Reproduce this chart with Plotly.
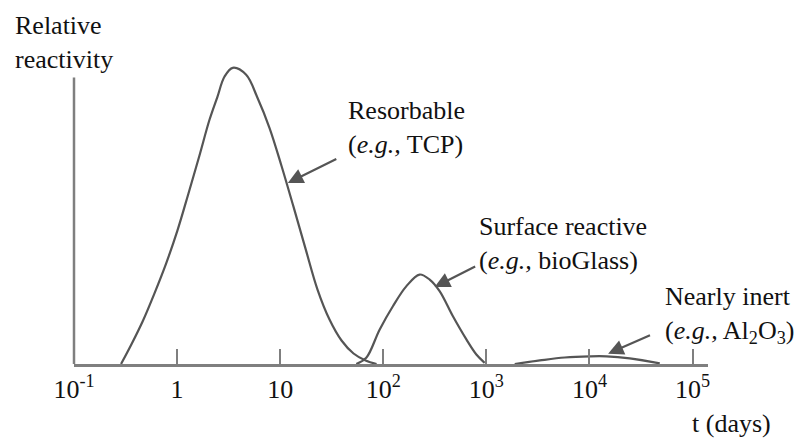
import plotly.graph_objects as go

# ---- data ----
resorb_t = [0.286, 0.360, 0.464, 0.602, 0.782, 1.007, 1.287, 1.646, 2.059, 2.462, 2.879, 3.466,
            4.677, 6.020, 7.871, 10.29, 13.46, 17.61, 23.02, 30.10, 39.37, 51.48, 67.33, 86.10]
resorb_y = [0, 0.0658, 0.1444, 0.2378, 0.3390, 0.4503, 0.5750, 0.7032, 0.8238, 0.9022, 0.9697, 1.0,
            0.9764, 0.8988, 0.7976, 0.6695, 0.5312, 0.3895, 0.2513, 0.1501, 0.0793, 0.0354, 0.0118, 0]

surface_t = [54.7, 68.4, 92.1, 124, 167, 225, 282, 352, 474, 640, 800, 962]
surface_y = [0, 0.021, 0.116, 0.195, 0.262, 0.302, 0.285, 0.246, 0.161, 0.083, 0.032, 0.004]

inert_t = [1884, 3297, 5760, 10070, 14620, 24600, 48100]
inert_y = [0, 0.012, 0.022, 0.026, 0.026, 0.019, 0.002]

tick_vals = [0.1, 1, 10, 100, 1000, 10000, 100000]
tick_text = ["10<sup>-1</sup>", "1", "10", "10<sup>2</sup>", "10<sup>3</sup>", "10<sup>4</sup>", "10<sup>5</sup>"]

CURVE = "#555555"
AXIS = "#7f7f7f"
FONT = dict(family="Liberation Serif, Times New Roman, serif", size=26, color="#111111")

fig = go.Figure()
for t, y in [(resorb_t, resorb_y), (surface_t, surface_y), (inert_t, inert_y)]:
    fig.add_trace(go.Scatter(x=t, y=y, mode="lines",
                             line=dict(color=CURVE, width=2.2, shape="spline", smoothing=1.0),
                             hoverinfo="skip", showlegend=False))

anns = [
    dict(xref="paper", yref="paper", x=-0.0967, y=1.035, text="Relative<br>reactivity",
         xanchor="left", yanchor="middle", align="left", showarrow=False),
    dict(xref="paper", yref="paper", x=0.972, y=-0.190, text="t (days)",
         xanchor="left", yanchor="middle", showarrow=False),
    dict(xref="x", yref="y", x=1.643, y=0.798, text="Resorbable<br>(<i>e.g.,</i> TCP)",
         xanchor="left", yanchor="middle", align="left", showarrow=False),
    dict(xref="x", yref="y", x=2.91, y=0.406, text="Surface reactive<br>(<i>e.g.,</i> bioGlass)",
         xanchor="left", yanchor="middle", align="left", showarrow=False),
    dict(xref="x", yref="y", x=4.715, y=0.165, text="Nearly inert<br>(<i>e.g.,</i> Al<sub>2</sub>O<sub>3</sub>)",
         xanchor="left", yanchor="middle", align="left", showarrow=False),
]
arrows = [
    (1.074, 0.611, 1.559, 0.695),
    (2.498, 0.260, 2.906, 0.332),
    (4.181, 0.035, 4.602, 0.0995),
]
for hx, hy, tx, ty in arrows:
    anns.append(dict(xref="x", yref="y", x=hx, y=hy, ax=tx, ay=ty, axref="x", ayref="y", text="",
                     showarrow=True, arrowhead=2, arrowsize=1.4, arrowwidth=2.2, arrowcolor=CURVE))
for a in anns:
    a.setdefault("font", FONT)
fig.update_layout(annotations=anns)

# y-axis line (stops below the top of the resorbable peak)
fig.add_shape(type="line", xref="paper", yref="y", x0=0, x1=0, y0=0, y1=0.967,
              line=dict(color=AXIS, width=2.5))

fig.update_xaxes(type="log", range=[-1, 5.15], showgrid=False, zeroline=False,
                 showline=True, linecolor=AXIS, linewidth=2.5, automargin=False,
                 tickmode="array", tickvals=tick_vals, ticktext=tick_text,
                 ticks="inside", ticklen=15, tickwidth=2, tickcolor=AXIS,
                 tickfont=FONT)
fig.update_yaxes(range=[0, 1.05], showgrid=False, zeroline=False, showline=False,
                 showticklabels=False, ticks="", automargin=False)

fig.update_layout(width=797, height=440, margin=dict(l=74, r=89, t=53, b=76),
                  plot_bgcolor="white", paper_bgcolor="white", showlegend=False)

fig.write_html("out.html", config={"displayModeBar": False},
               post_script="document.body.style.margin='0';")
